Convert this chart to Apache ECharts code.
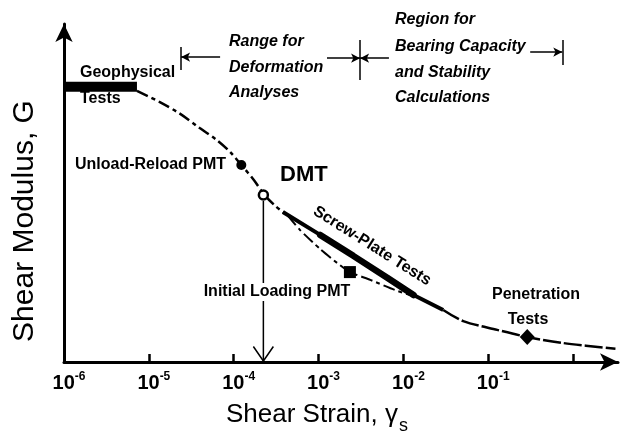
<!DOCTYPE html>
<html>
<head>
<meta charset="utf-8">
<script src="https://cdn.jsdelivr.net/npm/echarts@6/dist/echarts.min.js"></script>
<style>
  html, body { margin: 0; padding: 0; background: #fff; }
  #chart { width: 627px; height: 437px; }
</style>
</head>
<body>
<div id="chart"></div>
<script>
// x values are log10(shear strain), y is relative shear modulus G (0-100)
const decadeTicks = [-5, -4, -3, -2, -1, 0]
const decadeLabels = [-6, -5, -4, -3, -2, -1]

const geoStrain = [-6, -5.14]
const geoG = [81.4, 81.4]

const curveStrain = [-5.14, -4.87, -4.63, -4.40, -4.20, -4.04, -3.91, -3.76, -3.64, -3.51, -3.39]
const curveG = [80.2, 76.9, 73.4, 69.2, 65.7, 62.1, 58.3, 53.8, 49.5, 46.2, 43.8]

const screwStrain = [-3.42, -2.98, -2.59, -2.19, -1.88, -1.53]
const screwG = [44.4, 37.6, 31.4, 24.9, 19.8, 15.4]

const loadingStrain = [-3.36, -3.22, -2.98, -2.78, -2.63, -2.39, -2.10, -1.88]
const loadingG = [43.2, 39.1, 33.4, 29.3, 26.6, 24.3, 21.3, 19.5]

const tailStrain = [-1.53, -1.295, -0.894, -0.54, -0.115, 0.5]
const tailG = [15.4, 12.1, 9.5, 7.4, 5.6, 3.9]

const unloadPmt = [-3.91, 58.3]
const dmtPoint = [-3.65, 49.4]
const loadingPmt = [-2.63, 26.6]
const penetration = [-0.54, 7.4]

// range brackets along the strain axis
const bracketStrain = [-4.62, -2.51, -0.127]
const rangeArrowStrain = [-4.16, -2.90, -2.17, -0.505]

const zip = (xs, ys) => xs.map((x, i) => [x, ys[i]])
const font = '"Liberation Sans", Arial, sans-serif'

const chart = echarts.init(document.getElementById('chart'))

function seg(a, b, symA, symB) {
  return [{ coord: a, symbol: symA }, { coord: b, symbol: symB }]
}

function textWidth(text, cssFont) {
  const ctx = document.createElement('canvas').getContext('2d')
  ctx.font = cssFont
  return ctx.measureText(text).width
}

function txt(text, x, y, size, opts = {}) {
  return {
    type: 'text',
    x, y, z: 100,
    rotation: opts.rotation || 0,
    style: {
      text,
      font: `${opts.style || 'bold'} ${size}px ${font}`,
      fill: '#000',
      align: opts.align || 'left',
      textAlign: opts.align || 'left',
      verticalAlign: 'middle',
      textVerticalAlign: 'middle',
      backgroundColor: opts.bg,
      padding: opts.bg ? [1, 3] : 0,
    },
  }
}

const dmtX = dmtPoint[0]
const xTitle = 'Shear Strain, \u03b3'
const xTitleLeft = 226
const xTitleEnd = xTitleLeft + textWidth(xTitle, `normal 26px ${font}`)
const dot = { color: '#000', opacity: 1 }

chart.setOption({
  animation: false,
  grid: { left: 64, right: 9, top: 24, bottom: 75, outerBoundsMode: 'none' },
  xAxis: {
    type: 'value',
    min: -6,
    max: 0.53,
    axisLine: {
      onZero: false,
      lineStyle: { color: '#000', width: 3 },
      symbol: ['none', 'arrow'],
      symbolSize: [13, 18],
    },
    axisTick: {
      inside: true,
      length: 8,
      lineStyle: { color: '#000', width: 2.5 },
      customValues: decadeTicks,
    },
    axisLabel: {
      customValues: decadeLabels,
      margin: 9,
      padding: [0, 0, 0, 10],
      formatter: v => `{b|10}{s|${v}}`,
      rich: {
        b: { fontSize: 20, lineHeight: 24, fontFamily: font, color: '#000', fontWeight: 'bold' },
        s: { fontSize: 12, lineHeight: 10, verticalAlign: 'top', fontFamily: font, color: '#000', fontWeight: 'bold' },
      },
    },
    splitLine: { show: false },
  },
  yAxis: {
    type: 'value',
    min: 0,
    max: 100,
    axisLine: {
      show: true,
      onZero: false,
      lineStyle: { color: '#000', width: 3 },
      symbol: ['none', 'arrow'],
      symbolSize: [13, 18],
    },
    axisTick: { show: false },
    axisLabel: { show: false },
    splitLine: { show: false },
  },
  series: [
    {
      name: 'Geophysical Tests',
      type: 'line',
      data: zip(geoStrain, geoG),
      showSymbol: false,
      lineStyle: { color: '#000', width: 10 },
    },
    {
      name: 'curve',
      type: 'line',
      data: zip(curveStrain, curveG),
      showSymbol: false,
      smooth: 0.3,
      lineStyle: { color: '#000', width: 2.5, type: [12, 4, 4, 4] },
    },
    {
      name: 'Screw-Plate Tests',
      type: 'line',
      data: zip(screwStrain, screwG),
      showSymbol: false,
      lineStyle: { color: '#000', width: 4 },
    },
    {
      name: 'Screw-Plate core',
      type: 'line',
      data: zip(screwStrain.slice(1, 5), screwG.slice(1, 5)),
      showSymbol: false,
      lineStyle: { color: '#000', width: 6.5, cap: 'round' },
    },
    {
      name: 'Initial Loading PMT',
      type: 'line',
      data: zip(loadingStrain, loadingG),
      showSymbol: false,
      smooth: 0.2,
      lineStyle: { color: '#000', width: 2, type: [12, 4, 4, 4] },
    },
    {
      name: 'tail',
      type: 'line',
      data: zip(tailStrain, tailG),
      showSymbol: false,
      smooth: 0.3,
      lineStyle: { color: '#000', width: 2.5, type: [18, 3] },
    },
    {
      name: 'DMT arrow',
      type: 'line',
      data: [[dmtX, 47.6], [dmtX, 0.3]],
      showSymbol: false,
      lineStyle: { color: '#000', width: 1.5 },
    },
    {
      name: 'DMT arrow head',
      type: 'line',
      data: [[dmtX - 0.118, 4.6], [dmtX, 0.3], [dmtX + 0.118, 4.6]],
      showSymbol: false,
      lineStyle: { color: '#000', width: 1.5 },
    },
    {
      name: 'Unload-Reload PMT',
      type: 'scatter',
      data: [unloadPmt],
      symbol: 'circle',
      symbolSize: 10,
      itemStyle: dot,
      z: 5,
    },
    {
      name: 'DMT',
      type: 'scatter',
      data: [dmtPoint],
      symbol: 'circle',
      symbolSize: 9,
      itemStyle: { color: '#fff', borderColor: '#000', borderWidth: 2.5, opacity: 1 },
      z: 5,
    },
    {
      name: 'Loading PMT',
      type: 'scatter',
      data: [loadingPmt],
      symbol: 'rect',
      symbolSize: 12,
      itemStyle: dot,
      z: 5,
    },
    {
      name: 'Penetration Tests',
      type: 'scatter',
      data: [penetration],
      symbol: 'diamond',
      symbolSize: [15, 16],
      itemStyle: dot,
      z: 5,
    },
    {
      name: 'brackets',
      type: 'line',
      data: [],
      markLine: {
        silent: true,
        animation: false,
        symbolSize: [7, 9],
        label: { show: false },
        lineStyle: { color: '#000', width: 1.5, type: 'solid' },
        data: [
          seg([bracketStrain[0], 93.2], [bracketStrain[0], 86.4], 'none', 'none'),
          seg([rangeArrowStrain[0], 90.2], [bracketStrain[0], 90.2], 'none', 'arrow'),
          seg([bracketStrain[1], 95.3], [bracketStrain[1], 83.4], 'none', 'none'),
          seg([rangeArrowStrain[1], 89.9], [bracketStrain[1], 89.9], 'none', 'arrow'),
          seg([rangeArrowStrain[2], 89.9], [bracketStrain[1], 89.9], 'none', 'arrow'),
          seg([rangeArrowStrain[3], 91.7], [bracketStrain[2], 91.7], 'none', 'arrow'),
          seg([bracketStrain[2], 95.3], [bracketStrain[2], 87.9], 'none', 'none'),
        ],
      },
    },
  ],
  graphic: [
    txt('Range for', 229, 42, 16, { style: 'italic bold' }),
    txt('Deformation', 229, 68, 16, { style: 'italic bold' }),
    txt('Analyses', 229, 93, 16, { style: 'italic bold' }),
    txt('Region for', 395, 20, 16, { style: 'italic bold' }),
    txt('Bearing Capacity', 395, 47, 16, { style: 'italic bold' }),
    txt('and Stability', 395, 73, 16, { style: 'italic bold' }),
    txt('Calculations', 395, 98, 16, { style: 'italic bold' }),
    txt('Geophysical', 80, 73, 16),
    txt('Tests', 80, 99, 16),
    txt('Unload-Reload PMT', 75, 165, 16),
    txt('DMT', 280, 175, 22),
    txt('Initial Loading PMT', 277, 292, 16, { align: 'center', bg: '#fff' }),
    txt('Screw-Plate Tests', 372, 246, 16, { align: 'center', rotation: -0.56 }),
    txt('Penetration', 536, 295, 16, { align: 'center' }),
    txt('Tests', 528, 320, 16, { align: 'center' }),
    txt(xTitle, xTitleLeft, 415, 26, { style: 'normal' }),
    txt('s', xTitleEnd + 1, 426, 18, { style: 'normal' }),
    txt('Shear Modulus, G', 25, 221, 30, { style: 'normal', align: 'center', rotation: Math.PI / 2 }),
  ],
})
</script>
</body>
</html>
